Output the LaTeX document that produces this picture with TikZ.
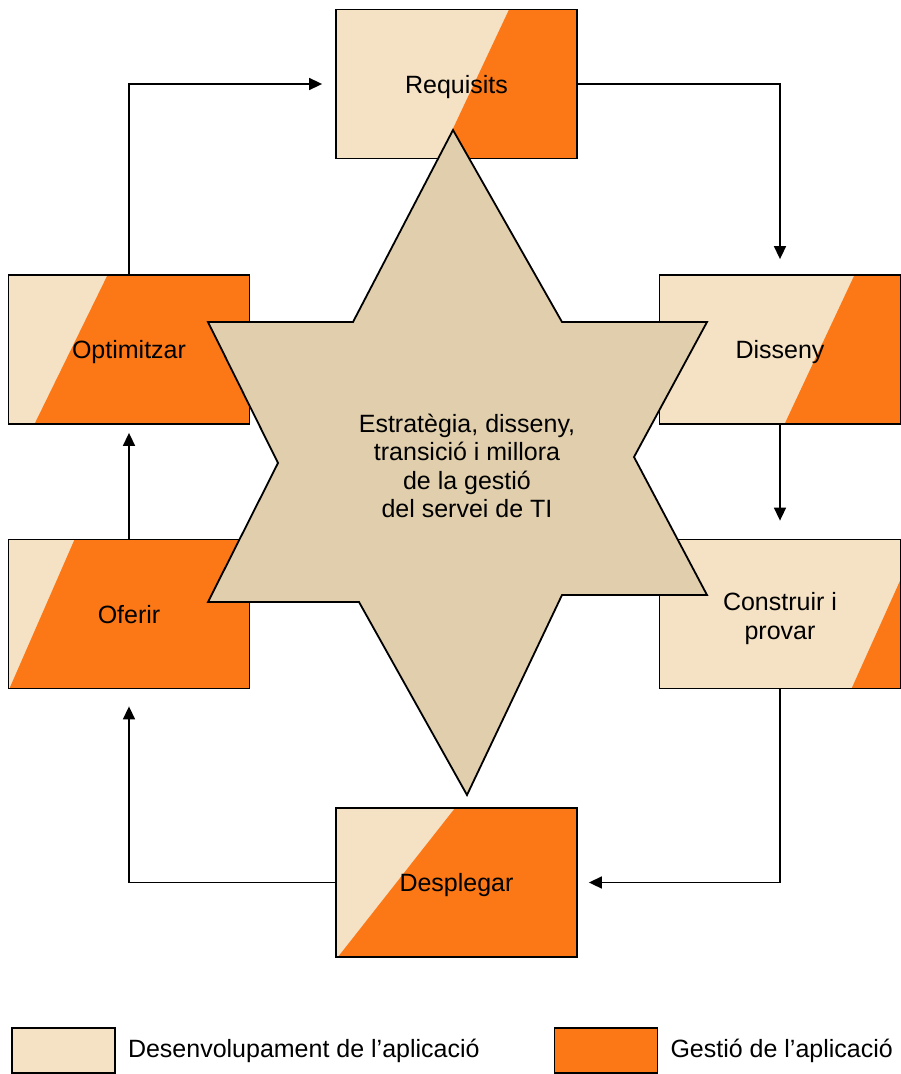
\documentclass[tikz,border=0pt]{standalone}
\usepackage{fontspec}
\setmainfont{Liberation Sans}
\usetikzlibrary{arrows.meta,positioning,calc}
\definecolor{devcol}{RGB}{245,225,195}
\definecolor{gestcol}{RGB}{252,119,22}
\definecolor{starcol}{RGB}{224,206,172}
\begin{document}
\begin{tikzpicture}[
  x=1pt,y=-1pt,
  font=\fontsize{25}{28.5}\selectfont,
  box/.style 2 args={draw,line width=1.8pt,minimum width=241pt,minimum height=149pt,align=center,inner sep=0pt,
    text height=18pt,text depth=0pt,
    preaction={fill=devcol,path picture={
      \fill[gestcol] ($(path picture bounding box.north west)!#1!(path picture bounding box.north east)$)
        -- (path picture bounding box.north east) -- (path picture bounding box.south east)
        -- ($(path picture bounding box.south west)!#2!(path picture bounding box.south east)$) -- cycle;}}},
  star/.style={draw,line width=1.8pt,fill=starcol,line join=miter},
  arr/.style={-{Triangle[length=13pt,width=12pt]},line width=1.6pt},
  legbox/.style={draw,line width=1.6pt,minimum width=103pt,minimum height=45pt,inner sep=0pt},
  legtxt/.style={anchor=west,inner sep=0pt}
]
\useasboundingbox (0,0) rectangle (901,1074);

\node[box={0.718}{0.427}] (req) at (456.5,84) {Requisits};
\node[box={0.809}{0.519}] (dis) at (780,349.5) {Disseny};
\node[box={1.075}{0.797},text height=50pt] (con) at (780,614) {Construir i\\provar};
\node[box={0.411}{0.108}] (opt) at (129,349.5) {Optimitzar};
\node[box={0.274}{0.004}] (ofe) at (129,614) {Oferir};
\node[box={0.494}{0.008}] (des) at (456.5,882.5) {Desplegar};

\draw[star] (453,130) -- (562,322) -- (707,322) -- (634,457) -- (707,595) -- (562,595)
  -- (467,795) -- (359,602) -- (208,602) -- (278,463) -- (208,322) -- (353,322) -- cycle;
\node[align=center] (itsm) at (467,466) {Estratègia, disseny,\\transició i millora\\de la gestió\\del servei de TI};

\draw[arr,shorten >=13pt] (opt.north) |- (req.west);
\draw[arr,shorten >=15pt] (req.east) -| (dis.north);
\draw[arr,shorten >=18pt] (dis.south) -- (con.north);
\draw[arr,shorten >=11pt] (con.south) |- (des.east);
\draw[arr,shorten >=17pt] (des.west) -| (ofe.south);
\draw[arr,shorten >=8pt] (ofe.north) -- (opt.south);

\node[legbox,fill=devcol] (ldev) at (63.5,1050.5) {};
\node[legtxt,right=12pt of ldev] (tdev) {Desenvolupament de l’aplicació};
\node[legbox,fill=gestcol] (lgest) at (606,1050.5) {};
\node[legtxt,right=12pt of lgest] (tgest) {Gestió de l’aplicació};
\end{tikzpicture}
\end{document}
